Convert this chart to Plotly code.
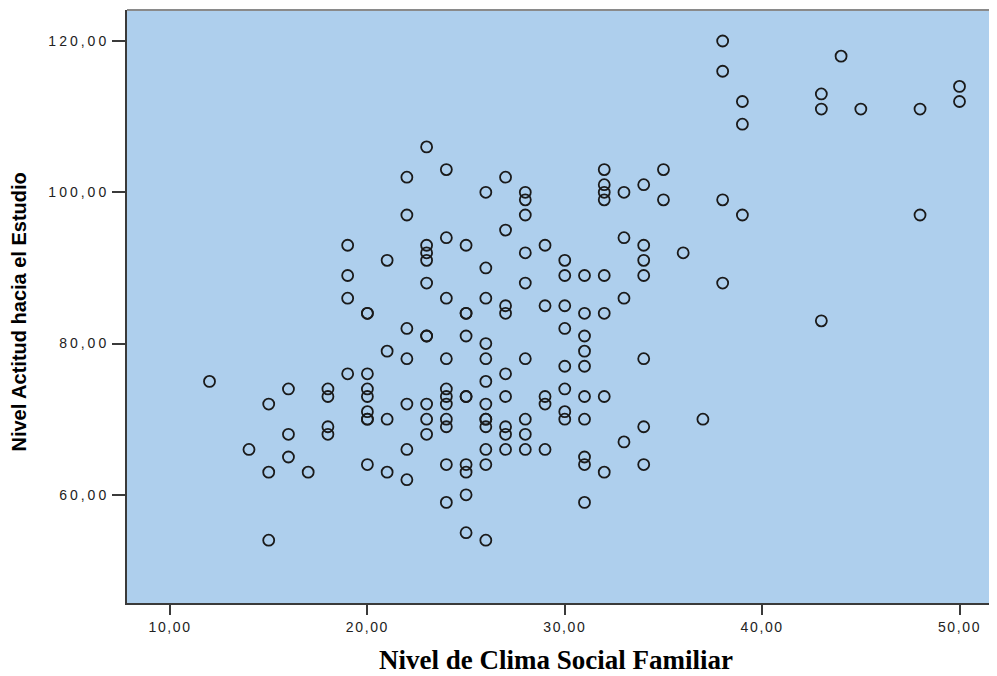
import plotly.graph_objects as go

# Data (x = Clima Social Familiar, y = Actitud hacia el Estudio)
clima = [12, 14, 15, 15, 15, 16, 16, 16, 17, 18, 18, 18, 18,
         19, 19, 19, 19,
         20, 20, 20, 20, 20, 20, 20, 20, 20,
         21, 21, 21, 21,
         22, 22, 22, 22, 22, 22, 22,
         23, 23, 23, 23, 23, 23, 23, 23, 23, 23,
         24, 24, 24, 24, 24, 24, 24, 24, 24, 24, 24,
         25, 25, 25, 25, 25, 25, 25, 25, 25, 25,
         26, 26, 26, 26, 26, 26, 26, 26, 26, 26, 26, 26, 26,
         27, 27, 27, 27, 27, 27, 27, 27, 27,
         28, 28, 28, 28, 28, 28, 28, 28, 28,
         29, 29, 29, 29, 29,
         30, 30, 30, 30, 30, 30, 30, 30,
         31, 31, 31, 31, 31, 31, 31, 31, 31, 31,
         32, 32, 32, 32, 32, 32, 32, 32,
         33, 33, 33, 33,
         34, 34, 34, 34, 34, 34, 34,
         35, 35, 36, 37,
         38, 38, 38, 38,
         39, 39, 39,
         43, 43, 43, 44, 45, 48, 48, 50, 50]
actitud = [75, 66, 72, 63, 54, 74, 68, 65, 63, 74, 73, 69, 68,
           93, 89, 86, 76,
           84, 84, 76, 74, 73, 71, 70, 70, 64,
           91, 79, 70, 63,
           102, 97, 82, 78, 72, 66, 62,
           106, 93, 92, 91, 88, 81, 81, 72, 70, 68,
           103, 94, 86, 78, 74, 73, 72, 70, 69, 64, 59,
           93, 84, 84, 81, 73, 73, 64, 63, 60, 55,
           100, 90, 86, 80, 78, 75, 72, 70, 70, 69, 66, 64, 54,
           102, 95, 85, 84, 76, 73, 69, 68, 66,
           100, 99, 97, 92, 88, 78, 70, 68, 66,
           93, 85, 73, 72, 66,
           91, 89, 85, 82, 77, 74, 71, 70,
           89, 84, 81, 79, 77, 73, 70, 65, 64, 59,
           103, 101, 100, 99, 89, 84, 73, 63,
           100, 94, 86, 67,
           101, 93, 91, 89, 78, 69, 64,
           103, 99, 92, 70,
           120, 116, 99, 88,
           112, 109, 97,
           113, 111, 83, 118, 111, 111, 97, 114, 112]

x_ticks = [10, 20, 30, 40, 50]
y_ticks = [60, 80, 100, 120]
x_title = "Nivel de Clima Social Familiar"
y_title = "Nivel Actitud hacia el Estudio"

fig = go.Figure()
fig.add_trace(go.Scatter(
    x=clima, y=actitud, mode="markers",
    marker=dict(symbol="circle-open", size=11, color="#1a1a1a",
                line=dict(width=1.8, color="#1a1a1a")),
    showlegend=False, hoverinfo="x+y",
))

xtickfont = dict(family="Liberation Sans, Arial, sans-serif", size=14, color="#222222")
ytickfont = dict(family="Liberation Sans, Arial, sans-serif", size=14, color="#222222")

fig.update_layout(
    width=989, height=668,
    margin=dict(l=119, r=0, t=2, b=73),
    paper_bgcolor="white",
    plot_bgcolor="rgb(174,207,237)",
    separators=",.",
    xaxis=dict(range=[7.82, 51.9], tickvals=x_ticks, tickformat=".2f",
               showgrid=False, zeroline=False, showline=True,
               linecolor="#3a3a3a", linewidth=2, ticks="outside",
               ticklen=10, tickwidth=1.5, tickcolor="#3a3a3a", tickfont=xtickfont),
    yaxis=dict(range=[45.7, 124.1], tickvals=y_ticks, tickformat=".2f",
               showgrid=False, zeroline=False, showline=True,
               linecolor="#3a3a3a", linewidth=2, ticks="outside",
               ticklen=13, tickwidth=1.5, tickcolor="#3a3a3a", tickfont=ytickfont),
    shapes=[dict(type="line", xref="paper", yref="paper", x0=0, x1=1, y0=1, y1=1,
                 line=dict(color="#8a8a8a", width=2))],
    annotations=[
        dict(text="<b>" + x_title + "</b>", xref="paper", yref="paper",
             x=0.4935, y=0, yshift=-57, xanchor="center", yanchor="middle",
             showarrow=False,
             font=dict(family="Liberation Serif, Times New Roman, serif", size=27, color="black")),
        dict(text="<b>" + y_title + "</b>", xref="paper", yref="paper",
             x=0, xshift=-109, y=0.5, yshift=-6, xanchor="center", yanchor="middle",
             textangle=-90, showarrow=False,
             font=dict(family="Liberation Sans Narrow, Arial Narrow, Liberation Sans, sans-serif",
                       size=20, color="black")),
    ],
)

post = ("document.querySelectorAll('.xtick text').forEach(function(t){t.style.letterSpacing='1.6px';});"
        "document.querySelectorAll('.ytick text').forEach(function(t){t.style.letterSpacing='3px';});")
fig.write_html("out.html", post_script=post)
